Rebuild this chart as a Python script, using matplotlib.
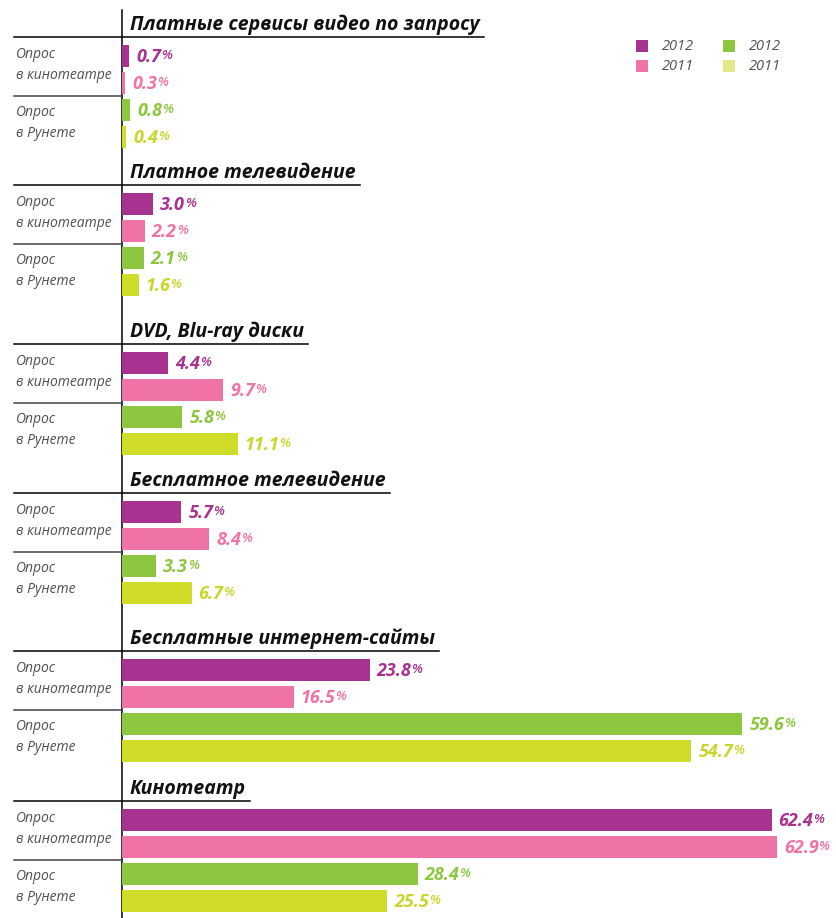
import matplotlib
matplotlib.use('Agg')
import matplotlib.pyplot as plt

# ---------------------------------------------------------------------------
# данные
# ---------------------------------------------------------------------------
categories = [
    "Платные сервисы видео по запросу",
    "Платное телевидение",
    "DVD, Blu-ray диски",
    "Бесплатное телевидение",
    "Бесплатные интернет-сайты",
    "Кинотеатр",
]
cinema_2012 = [0.7, 3.0, 4.4, 5.7, 23.8, 62.4]
cinema_2011 = [0.3, 2.2, 9.7, 8.4, 16.5, 62.9]
runet_2012 = [0.8, 2.1, 5.8, 3.3, 59.6, 28.4]
runet_2011 = [0.4, 1.6, 11.1, 6.7, 54.7, 25.5]
row_labels = ["Опрос\nв кинотеатре", "Опрос\nв Рунете"]
legend_years = ["2012", "2011"]

# ---------------------------------------------------------------------------
# оформление
# ---------------------------------------------------------------------------
W, H = 836, 918
AXIS_X = 122
PX_PER_PCT = 10.41
header_y = [37, 185, 344, 493, 651, 801]
bar_offsets = [19, 46, 73, 100]
BAR_H = 22

colors = ["#a8328f", "#f073a8", "#8dc63f", "#cfdd28"]
text_colors = ["#a8328f", "#f073a8", "#8dc63f", "#c9d52a"]
legend_colors = ["#a8328f", "#f073a8", "#8dc63f", "#e3e98a"]
FONT = ['Open Sans', 'DejaVu Sans']
plt.rcParams['font.family'] = FONT

fig = plt.figure(figsize=(W / 100, H / 100), dpi=100)

# фон с подписями и линиями (координаты в пикселях)
bg = fig.add_axes([0, 0, 1, 1])
bg.set_xlim(0, W)
bg.set_ylim(H, 0)
bg.axis('off')

# ось с барами (x в процентах)
ax = fig.add_axes([AXIS_X / W, 0, (W - AXIS_X) / W, 1])
ax.set_xlim(0, (W - AXIS_X) / PX_PER_PCT)
ax.set_ylim(H, 0)
ax.axis('off')
ax.patch.set_alpha(0)

bg.plot([AXIS_X, AXIS_X], [10, H], color='black', lw=1.1)

series = [cinema_2012, cinema_2011, runet_2012, runet_2011]
renderer = fig.canvas.get_renderer()

for g, cat in enumerate(categories):
    hy = header_y[g]
    title = bg.text(130, hy - 7, cat, fontsize=14, fontweight='bold',
                    fontstyle='italic', color='#111111', va='baseline')
    bb = title.get_window_extent(renderer=renderer)
    bg.plot([14, bb.x1 + 4], [hy, hy], color='black', lw=1.1)
    bg.plot([14, AXIS_X], [hy + 59, hy + 59], color='#444444', lw=1.1)

    bg.text(16, hy + 28, row_labels[0], fontsize=10, fontstyle='italic',
            color='#505050', va='center', linespacing=1.55)
    bg.text(16, hy + 86, row_labels[1], fontsize=10, fontstyle='italic',
            color='#505050', va='center', linespacing=1.55)

    for s, vals in enumerate(series):
        y = hy + bar_offsets[s]
        v = vals[g]
        ax.barh(y, v, height=BAR_H, left=0, color=colors[s], linewidth=0)
        num = ax.annotate(f"{v:.1f}", xy=(v, y), xytext=(5, -1),
                          textcoords='offset points', fontsize=13,
                          fontweight='bold', fontstyle='italic',
                          color=text_colors[s], va='center', ha='left')
        # знак процента — мельче и приподнят
        ax.annotate("%", xy=(1, 0.42), xycoords=num, fontsize=9.5,
                    fontstyle='italic', fontweight=600,
                    color=text_colors[s], va='baseline', ha='left')

# легенда
for i, (lx, cols) in enumerate([(636, legend_colors[:2]), (723, legend_colors[2:])]):
    for j, year in enumerate(legend_years):
        ly = 46 + j * 20
        bg.add_patch(plt.Rectangle((lx, ly - 6), 12, 12, color=cols[j], lw=0))
        bg.text(lx + 26, ly, year, fontsize=10.5, fontstyle='italic',
                color='#505050', va='center', ha='left')

fig.savefig('out.png', dpi=100)
